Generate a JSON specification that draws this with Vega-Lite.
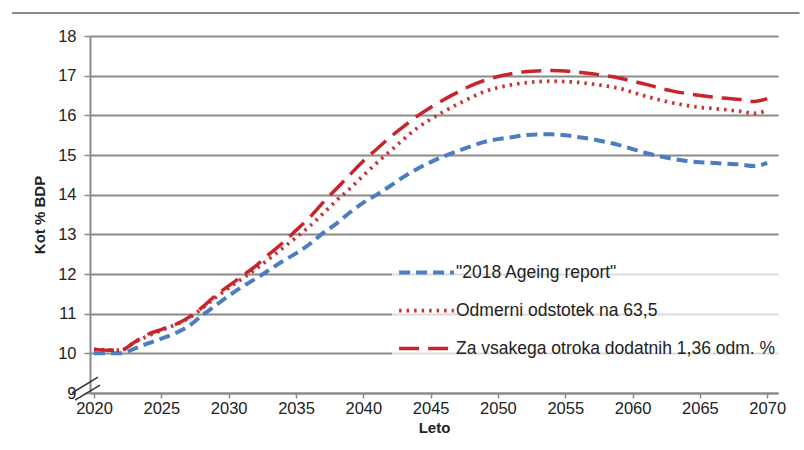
{
  "$schema": "https://vega.github.io/schema/vega-lite/v6.json",
  "width": 688,
  "height": 357,
  "autosize": "none",
  "padding": {"left": 90, "top": 36, "right": 26, "bottom": 57},
  "background": "white",
  "config": {
    "font": "Liberation Sans",
    "view": {"stroke": null}
  },
  "datasets": {
    "series": [
      {"leto": 2020, "s": "\"2018 Ageing report\"", "v": 10.0},
      {"leto": 2021, "s": "\"2018 Ageing report\"", "v": 10.0},
      {"leto": 2022, "s": "\"2018 Ageing report\"", "v": 10.0},
      {"leto": 2023, "s": "\"2018 Ageing report\"", "v": 10.12},
      {"leto": 2024, "s": "\"2018 Ageing report\"", "v": 10.25},
      {"leto": 2025, "s": "\"2018 Ageing report\"", "v": 10.37},
      {"leto": 2026, "s": "\"2018 Ageing report\"", "v": 10.5},
      {"leto": 2027, "s": "\"2018 Ageing report\"", "v": 10.68},
      {"leto": 2028, "s": "\"2018 Ageing report\"", "v": 10.95},
      {"leto": 2029, "s": "\"2018 Ageing report\"", "v": 11.2},
      {"leto": 2030, "s": "\"2018 Ageing report\"", "v": 11.45},
      {"leto": 2031, "s": "\"2018 Ageing report\"", "v": 11.68},
      {"leto": 2032, "s": "\"2018 Ageing report\"", "v": 11.88},
      {"leto": 2033, "s": "\"2018 Ageing report\"", "v": 12.1},
      {"leto": 2034, "s": "\"2018 Ageing report\"", "v": 12.32},
      {"leto": 2035, "s": "\"2018 Ageing report\"", "v": 12.52},
      {"leto": 2036, "s": "\"2018 Ageing report\"", "v": 12.75},
      {"leto": 2037, "s": "\"2018 Ageing report\"", "v": 13.03},
      {"leto": 2038, "s": "\"2018 Ageing report\"", "v": 13.27},
      {"leto": 2039, "s": "\"2018 Ageing report\"", "v": 13.55},
      {"leto": 2040, "s": "\"2018 Ageing report\"", "v": 13.8},
      {"leto": 2041, "s": "\"2018 Ageing report\"", "v": 14.0},
      {"leto": 2042, "s": "\"2018 Ageing report\"", "v": 14.22},
      {"leto": 2043, "s": "\"2018 Ageing report\"", "v": 14.45},
      {"leto": 2044, "s": "\"2018 Ageing report\"", "v": 14.65},
      {"leto": 2045, "s": "\"2018 Ageing report\"", "v": 14.82},
      {"leto": 2046, "s": "\"2018 Ageing report\"", "v": 14.97},
      {"leto": 2047, "s": "\"2018 Ageing report\"", "v": 15.1},
      {"leto": 2048, "s": "\"2018 Ageing report\"", "v": 15.22},
      {"leto": 2049, "s": "\"2018 Ageing report\"", "v": 15.33},
      {"leto": 2050, "s": "\"2018 Ageing report\"", "v": 15.4},
      {"leto": 2051, "s": "\"2018 Ageing report\"", "v": 15.45},
      {"leto": 2052, "s": "\"2018 Ageing report\"", "v": 15.5},
      {"leto": 2053, "s": "\"2018 Ageing report\"", "v": 15.52},
      {"leto": 2054, "s": "\"2018 Ageing report\"", "v": 15.52},
      {"leto": 2055, "s": "\"2018 Ageing report\"", "v": 15.5},
      {"leto": 2056, "s": "\"2018 Ageing report\"", "v": 15.45},
      {"leto": 2057, "s": "\"2018 Ageing report\"", "v": 15.4},
      {"leto": 2058, "s": "\"2018 Ageing report\"", "v": 15.33},
      {"leto": 2059, "s": "\"2018 Ageing report\"", "v": 15.25},
      {"leto": 2060, "s": "\"2018 Ageing report\"", "v": 15.15},
      {"leto": 2061, "s": "\"2018 Ageing report\"", "v": 15.05},
      {"leto": 2062, "s": "\"2018 Ageing report\"", "v": 14.97},
      {"leto": 2063, "s": "\"2018 Ageing report\"", "v": 14.9},
      {"leto": 2064, "s": "\"2018 Ageing report\"", "v": 14.85},
      {"leto": 2065, "s": "\"2018 Ageing report\"", "v": 14.82},
      {"leto": 2066, "s": "\"2018 Ageing report\"", "v": 14.8},
      {"leto": 2067, "s": "\"2018 Ageing report\"", "v": 14.78},
      {"leto": 2068, "s": "\"2018 Ageing report\"", "v": 14.76},
      {"leto": 2069, "s": "\"2018 Ageing report\"", "v": 14.72},
      {"leto": 2070, "s": "\"2018 Ageing report\"", "v": 14.8},

      {"leto": 2020, "s": "Odmerni odstotek na 63,5", "v": 10.1},
      {"leto": 2022, "s": "Odmerni odstotek na 63,5", "v": 10.08},
      {"leto": 2023, "s": "Odmerni odstotek na 63,5", "v": 10.28},
      {"leto": 2025, "s": "Odmerni odstotek na 63,5", "v": 10.58},
      {"leto": 2027, "s": "Odmerni odstotek na 63,5", "v": 10.88},
      {"leto": 2029, "s": "Odmerni odstotek na 63,5", "v": 11.4},
      {"leto": 2030, "s": "Odmerni odstotek na 63,5", "v": 11.65},
      {"leto": 2032, "s": "Odmerni odstotek na 63,5", "v": 12.12},
      {"leto": 2034, "s": "Odmerni odstotek na 63,5", "v": 12.65},
      {"leto": 2035, "s": "Odmerni odstotek na 63,5", "v": 12.92},
      {"leto": 2036, "s": "Odmerni odstotek na 63,5", "v": 13.2},
      {"leto": 2037, "s": "Odmerni odstotek na 63,5", "v": 13.52},
      {"leto": 2038, "s": "Odmerni odstotek na 63,5", "v": 13.85},
      {"leto": 2039, "s": "Odmerni odstotek na 63,5", "v": 14.15},
      {"leto": 2040, "s": "Odmerni odstotek na 63,5", "v": 14.48},
      {"leto": 2041, "s": "Odmerni odstotek na 63,5", "v": 14.8},
      {"leto": 2042, "s": "Odmerni odstotek na 63,5", "v": 15.1},
      {"leto": 2043, "s": "Odmerni odstotek na 63,5", "v": 15.4},
      {"leto": 2044, "s": "Odmerni odstotek na 63,5", "v": 15.68},
      {"leto": 2045, "s": "Odmerni odstotek na 63,5", "v": 15.9},
      {"leto": 2046, "s": "Odmerni odstotek na 63,5", "v": 16.1},
      {"leto": 2047, "s": "Odmerni odstotek na 63,5", "v": 16.28},
      {"leto": 2048, "s": "Odmerni odstotek na 63,5", "v": 16.45},
      {"leto": 2049, "s": "Odmerni odstotek na 63,5", "v": 16.6},
      {"leto": 2050, "s": "Odmerni odstotek na 63,5", "v": 16.7},
      {"leto": 2051, "s": "Odmerni odstotek na 63,5", "v": 16.77},
      {"leto": 2052, "s": "Odmerni odstotek na 63,5", "v": 16.82},
      {"leto": 2053, "s": "Odmerni odstotek na 63,5", "v": 16.85},
      {"leto": 2054, "s": "Odmerni odstotek na 63,5", "v": 16.86},
      {"leto": 2055, "s": "Odmerni odstotek na 63,5", "v": 16.85},
      {"leto": 2056, "s": "Odmerni odstotek na 63,5", "v": 16.83},
      {"leto": 2057, "s": "Odmerni odstotek na 63,5", "v": 16.79},
      {"leto": 2058, "s": "Odmerni odstotek na 63,5", "v": 16.74},
      {"leto": 2059, "s": "Odmerni odstotek na 63,5", "v": 16.68},
      {"leto": 2060, "s": "Odmerni odstotek na 63,5", "v": 16.58},
      {"leto": 2061, "s": "Odmerni odstotek na 63,5", "v": 16.48},
      {"leto": 2062, "s": "Odmerni odstotek na 63,5", "v": 16.39},
      {"leto": 2063, "s": "Odmerni odstotek na 63,5", "v": 16.31},
      {"leto": 2064, "s": "Odmerni odstotek na 63,5", "v": 16.25},
      {"leto": 2065, "s": "Odmerni odstotek na 63,5", "v": 16.2},
      {"leto": 2066, "s": "Odmerni odstotek na 63,5", "v": 16.17},
      {"leto": 2067, "s": "Odmerni odstotek na 63,5", "v": 16.14},
      {"leto": 2068, "s": "Odmerni odstotek na 63,5", "v": 16.1},
      {"leto": 2069, "s": "Odmerni odstotek na 63,5", "v": 16.05},
      {"leto": 2070, "s": "Odmerni odstotek na 63,5", "v": 16.12},

      {"leto": 2020, "s": "Za vsakega otroka dodatnih 1,36 odm. %", "v": 10.1},
      {"leto": 2021, "s": "Za vsakega otroka dodatnih 1,36 odm. %", "v": 10.08},
      {"leto": 2022, "s": "Za vsakega otroka dodatnih 1,36 odm. %", "v": 10.08},
      {"leto": 2023, "s": "Za vsakega otroka dodatnih 1,36 odm. %", "v": 10.28},
      {"leto": 2024, "s": "Za vsakega otroka dodatnih 1,36 odm. %", "v": 10.48},
      {"leto": 2025, "s": "Za vsakega otroka dodatnih 1,36 odm. %", "v": 10.6},
      {"leto": 2026, "s": "Za vsakega otroka dodatnih 1,36 odm. %", "v": 10.72},
      {"leto": 2027, "s": "Za vsakega otroka dodatnih 1,36 odm. %", "v": 10.9},
      {"leto": 2028, "s": "Za vsakega otroka dodatnih 1,36 odm. %", "v": 11.15},
      {"leto": 2029, "s": "Za vsakega otroka dodatnih 1,36 odm. %", "v": 11.45},
      {"leto": 2030, "s": "Za vsakega otroka dodatnih 1,36 odm. %", "v": 11.7},
      {"leto": 2031, "s": "Za vsakega otroka dodatnih 1,36 odm. %", "v": 11.95},
      {"leto": 2032, "s": "Za vsakega otroka dodatnih 1,36 odm. %", "v": 12.2},
      {"leto": 2033, "s": "Za vsakega otroka dodatnih 1,36 odm. %", "v": 12.5},
      {"leto": 2034, "s": "Za vsakega otroka dodatnih 1,36 odm. %", "v": 12.78},
      {"leto": 2035, "s": "Za vsakega otroka dodatnih 1,36 odm. %", "v": 13.1},
      {"leto": 2036, "s": "Za vsakega otroka dodatnih 1,36 odm. %", "v": 13.42},
      {"leto": 2037, "s": "Za vsakega otroka dodatnih 1,36 odm. %", "v": 13.8},
      {"leto": 2038, "s": "Za vsakega otroka dodatnih 1,36 odm. %", "v": 14.15},
      {"leto": 2039, "s": "Za vsakega otroka dodatnih 1,36 odm. %", "v": 14.5},
      {"leto": 2040, "s": "Za vsakega otroka dodatnih 1,36 odm. %", "v": 14.85},
      {"leto": 2041, "s": "Za vsakega otroka dodatnih 1,36 odm. %", "v": 15.15},
      {"leto": 2042, "s": "Za vsakega otroka dodatnih 1,36 odm. %", "v": 15.45},
      {"leto": 2043, "s": "Za vsakega otroka dodatnih 1,36 odm. %", "v": 15.72},
      {"leto": 2044, "s": "Za vsakega otroka dodatnih 1,36 odm. %", "v": 15.98},
      {"leto": 2045, "s": "Za vsakega otroka dodatnih 1,36 odm. %", "v": 16.2},
      {"leto": 2046, "s": "Za vsakega otroka dodatnih 1,36 odm. %", "v": 16.4},
      {"leto": 2047, "s": "Za vsakega otroka dodatnih 1,36 odm. %", "v": 16.58},
      {"leto": 2048, "s": "Za vsakega otroka dodatnih 1,36 odm. %", "v": 16.75},
      {"leto": 2049, "s": "Za vsakega otroka dodatnih 1,36 odm. %", "v": 16.88},
      {"leto": 2050, "s": "Za vsakega otroka dodatnih 1,36 odm. %", "v": 16.98},
      {"leto": 2051, "s": "Za vsakega otroka dodatnih 1,36 odm. %", "v": 17.05},
      {"leto": 2052, "s": "Za vsakega otroka dodatnih 1,36 odm. %", "v": 17.1},
      {"leto": 2053, "s": "Za vsakega otroka dodatnih 1,36 odm. %", "v": 17.12},
      {"leto": 2054, "s": "Za vsakega otroka dodatnih 1,36 odm. %", "v": 17.13},
      {"leto": 2055, "s": "Za vsakega otroka dodatnih 1,36 odm. %", "v": 17.12},
      {"leto": 2056, "s": "Za vsakega otroka dodatnih 1,36 odm. %", "v": 17.09},
      {"leto": 2057, "s": "Za vsakega otroka dodatnih 1,36 odm. %", "v": 17.05},
      {"leto": 2058, "s": "Za vsakega otroka dodatnih 1,36 odm. %", "v": 17.0},
      {"leto": 2059, "s": "Za vsakega otroka dodatnih 1,36 odm. %", "v": 16.94},
      {"leto": 2060, "s": "Za vsakega otroka dodatnih 1,36 odm. %", "v": 16.86},
      {"leto": 2061, "s": "Za vsakega otroka dodatnih 1,36 odm. %", "v": 16.78},
      {"leto": 2062, "s": "Za vsakega otroka dodatnih 1,36 odm. %", "v": 16.69},
      {"leto": 2063, "s": "Za vsakega otroka dodatnih 1,36 odm. %", "v": 16.61},
      {"leto": 2064, "s": "Za vsakega otroka dodatnih 1,36 odm. %", "v": 16.55},
      {"leto": 2065, "s": "Za vsakega otroka dodatnih 1,36 odm. %", "v": 16.5},
      {"leto": 2066, "s": "Za vsakega otroka dodatnih 1,36 odm. %", "v": 16.46},
      {"leto": 2067, "s": "Za vsakega otroka dodatnih 1,36 odm. %", "v": 16.43},
      {"leto": 2068, "s": "Za vsakega otroka dodatnih 1,36 odm. %", "v": 16.4},
      {"leto": 2069, "s": "Za vsakega otroka dodatnih 1,36 odm. %", "v": 16.35},
      {"leto": 2070, "s": "Za vsakega otroka dodatnih 1,36 odm. %", "v": 16.42}
    ],
    "breaks": [
      {"leto": 2018.36, "leto2": 2020.29, "v": 9.0, "v2": 9.4},
      {"leto": 2018.59, "leto2": 2020.44, "v": 8.82, "v2": 9.2}
    ],
    "frame": [
      {"leto": 2013.9, "leto2": 2072.4, "v": 18.58}
    ]
  },
  "encoding": {
    "x": {
      "field": "leto", "type": "quantitative",
      "scale": {"domain": [2019.7, 2070.8], "nice": false, "zero": false},
      "axis": {
        "title": "Leto", "values": [2020, 2025, 2030, 2035, 2040, 2045, 2050, 2055, 2060, 2065, 2070],
        "format": "d", "grid": false, "domainColor": "#8a8a8a", "domainWidth": 2,
        "tickColor": "#8a8a8a", "tickWidth": 1.5, "tickSize": 5, "labelPadding": 2, "titlePadding": 4,
        "labelFont": "Liberation Sans", "labelFontSize": 16.5, "labelColor": "#222",
        "titleFont": "Liberation Sans", "titleFontSize": 15, "titleFontWeight": "bold", "titleColor": "#222"
      }
    },
    "y": {
      "field": "v", "type": "quantitative",
      "scale": {"domain": [9, 18], "nice": false, "zero": false},
      "axis": {
        "title": "Kot % BDP", "values": [9, 10, 11, 12, 13, 14, 15, 16, 17, 18],
        "format": "d", "grid": true, "gridColor": "#8a8a8a", "gridWidth": 2, "labelOverlap": false,
        "domainColor": "#8a8a8a", "domainWidth": 2, "tickColor": "#8a8a8a", "tickWidth": 1.5,
        "tickSize": 6, "labelPadding": 8, "titlePadding": 10,
        "labelFont": "Liberation Sans", "labelFontSize": 16.5, "labelColor": "#222",
        "titleFont": "Liberation Sans", "titleFontSize": 15, "titleFontWeight": "bold", "titleColor": "#222"
      }
    }
  },
  "layer": [
    {
      "data": {"name": "series"},
      "mark": {"type": "line", "interpolate": "monotone", "strokeCap": "butt", "clip": false},
      "encoding": {
        "color": {
          "field": "s", "type": "nominal",
          "scale": {
            "domain": ["\"2018 Ageing report\"", "Odmerni odstotek na 63,5", "Za vsakega otroka dodatnih 1,36 odm. %"],
            "range": ["#4a7ebf", "#c8323a", "#c8252b"]
          },
          "legend": {
            "title": null, "orient": "none", "legendX": 302, "legendY": 202,
            "symbolType": "stroke", "symbolSize": 3000, "symbolStrokeWidth": 3,
            "labelFontSize": 17.5, "labelColor": "#222", "labelFont": "Liberation Sans",
            "labelLimit": 0, "rowPadding": -16, "labelOffset": 0,
            "fillColor": "rgba(255,255,255,0.7)", "padding": 5
          }
        },
        "strokeDash": {
          "field": "s", "type": "nominal",
          "scale": {
            "domain": ["\"2018 Ageing report\"", "Odmerni odstotek na 63,5", "Za vsakega otroka dodatnih 1,36 odm. %"],
            "range": [[11, 6], [2.5, 5], [20, 9]]
          },
          "legend": null
        },
        "strokeWidth": {
          "field": "s", "type": "nominal",
          "scale": {
            "domain": ["\"2018 Ageing report\"", "Odmerni odstotek na 63,5", "Za vsakega otroka dodatnih 1,36 odm. %"],
            "range": [4, 3.5, 2.8]
          },
          "legend": null
        }
      }
    },
    {
      "data": {"name": "breaks"},
      "mark": {"type": "rule", "color": "#333", "strokeWidth": 1.5, "clip": false},
      "encoding": {
        "x2": {"field": "leto2"},
        "y2": {"field": "v2"}
      }
    },
    {
      "data": {"name": "frame"},
      "mark": {"type": "rule", "color": "#8a8a8a", "strokeWidth": 2, "clip": false},
      "encoding": {
        "x2": {"field": "leto2"}
      }
    }
  ]
}
